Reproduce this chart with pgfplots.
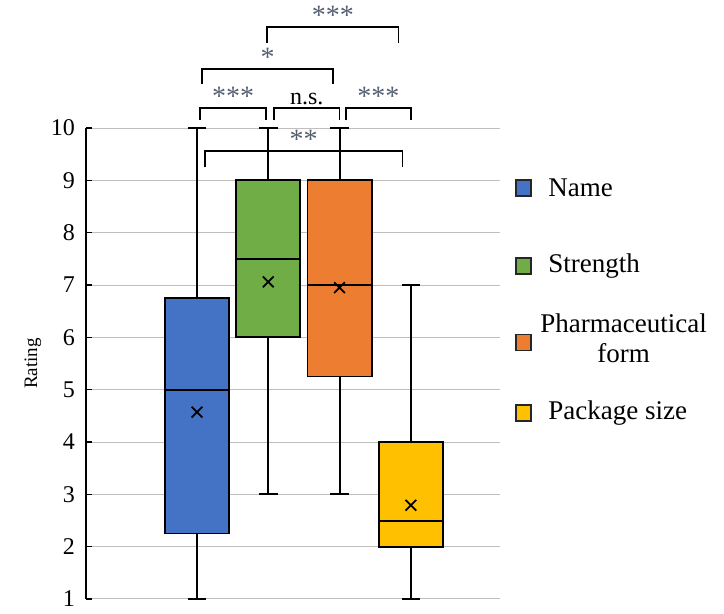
\documentclass[border=0pt]{standalone}
\usepackage{pgfplots}
\pgfplotsset{compat=1.18}
\usepgfplotslibrary{statistics}
\usepackage{fontspec}
\setmainfont{Liberation Serif}
\definecolor{cName}{HTML}{4472C4}
\definecolor{cStr}{HTML}{70AD47}
\definecolor{cPh}{HTML}{ED7D31}
\definecolor{cPk}{HTML}{FFC000}
\definecolor{grid}{HTML}{D9D9D9}
\definecolor{ast}{RGB}{85,95,115}
\begin{document}
\begin{tikzpicture}
\begin{axis}[
  scale only axis, width=207pt, height=235.5pt,
  xmin=-0.557, xmax=5.25, ymin=1, ymax=10,
  ytick={1,...,10}, xtick=\empty,
  axis x line=none, axis y line*=left,
  ymajorgrids, grid style={grid, line width=0.5pt},
  tick align=inside, major tick length=3pt,
  y axis line style={black, line width=0.7pt},
  tick style={black, line width=0.7pt},
  /pgf/number format/assume math mode=true,
  yticklabel style={font=\fontsize{12}{14}\selectfont, xshift=-2pt},
  ylabel={Rating}, ylabel style={font=\fontsize{9.5}{11}\selectfont, yshift=-2pt},
  clip=false,
  boxplot/draw direction=y,
  boxplot/box extend=0.9,
  boxplot/whisker extend=0.26,
  boxplot/every box/.style={line width=0.9pt},
  boxplot/every median/.style={line width=1pt},
  boxplot/every whisker/.style={line width=1pt},
  boxplot/every average/.style={/tikz/mark=x, /tikz/mark size=3.8pt, /tikz/mark options={draw=black, line width=0.8pt}},
]
\addplot[boxplot prepared={lower whisker=1, lower quartile=2.25, median=5, upper quartile=6.75, upper whisker=10, average=4.57, draw position=1}, fill=cName, draw=black, line width=0.9pt] coordinates {};
\addplot[boxplot prepared={lower whisker=3, lower quartile=6, median=7.5, upper quartile=9, upper whisker=10, average=7.06, draw position=2}, fill=cStr, draw=black, line width=0.9pt] coordinates {};
\addplot[boxplot prepared={lower whisker=3, lower quartile=5.25, median=7, upper quartile=9, upper whisker=10, average=6.95, draw position=3}, fill=cPh, draw=black, line width=0.9pt] coordinates {};
\addplot[boxplot prepared={lower whisker=1, lower quartile=2, median=2.5, upper quartile=4, upper whisker=7, average=2.79, draw position=4}, fill=cPk, draw=black, line width=0.9pt] coordinates {};

% significance brackets
\tikzset{br/.style={line width=0.7pt, black}, lab/.style={font=\fontsize{12}{14}\selectfont, inner sep=1pt, anchor=south}, alab/.style={font=\fontsize{14}{16}\selectfont, inner sep=0pt, anchor=south, text=ast}}
\draw[br] (axis cs:1.04,10.15) -- (axis cs:1.04,10.38) -- (axis cs:1.97,10.38) -- (axis cs:1.97,10.15);
\node[alab] at (axis cs:1.505,10.42) {***};
\draw[br] (axis cs:2.08,10.15) -- (axis cs:2.08,10.38) -- (axis cs:3.0,10.38) -- (axis cs:3.0,10.15);
\node[lab] at (axis cs:2.54,10.40) {n.s.};
\draw[br] (axis cs:3.09,10.15) -- (axis cs:3.09,10.38) -- (axis cs:4.0,10.38) -- (axis cs:4.0,10.15);
\node[alab] at (axis cs:3.545,10.42) {***};
\draw[br] (axis cs:1.07,10.84) -- (axis cs:1.07,11.13) -- (axis cs:2.91,11.13) -- (axis cs:2.91,10.84);
\node[alab] at (axis cs:1.99,11.17) {*};
\draw[br] (axis cs:1.98,11.63) -- (axis cs:1.98,11.93) -- (axis cs:3.83,11.93) -- (axis cs:3.83,11.63);
\node[alab] at (axis cs:2.905,11.97) {***};
\draw[br] (axis cs:1.11,9.25) -- (axis cs:1.11,9.56) -- (axis cs:3.88,9.56) -- (axis cs:3.88,9.25);
\node[alab] at (axis cs:2.495,9.60) {**};

% legend
\tikzset{lsq/.style={draw=black!85, line width=0.6pt}, ltx/.style={font=\fontsize{13.5}{15}\selectfont, anchor=west, inner sep=0pt}}
\draw[lsq, fill=cName] ([xshift=8pt,yshift=-4pt]rel axis cs:1,0.8726) rectangle ++(7.5pt,8pt);
\node[ltx] at ([xshift=24pt]rel axis cs:1,0.8726) {Name};
\draw[lsq, fill=cStr] ([xshift=8pt,yshift=-4pt]rel axis cs:1,0.707) rectangle ++(7.5pt,8pt);
\node[ltx] at ([xshift=24pt]rel axis cs:1,0.707) {Strength};
\draw[lsq, fill=cPh] ([xshift=8pt,yshift=-4pt]rel axis cs:1,0.545) rectangle ++(7.5pt,8pt);
\node[ltx, align=center, font=\fontsize{13.5}{15}\selectfont] at ([xshift=20pt]rel axis cs:1,0.554) {Pharmaceutical\\form};
\draw[lsq, fill=cPk] ([xshift=8pt,yshift=-4pt]rel axis cs:1,0.395) rectangle ++(7.5pt,8pt);
\node[ltx] at ([xshift=24pt]rel axis cs:1,0.395) {Package size};

\path ([xshift=-43pt,yshift=-3.5pt]rel axis cs:0,0) rectangle ++(362pt,303pt);
\end{axis}
\end{tikzpicture}
\end{document}
